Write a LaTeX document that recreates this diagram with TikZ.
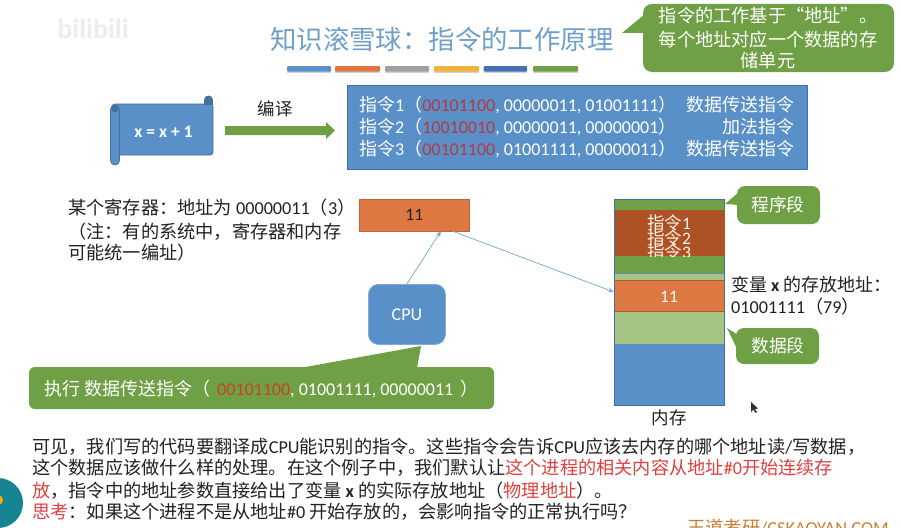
\documentclass[tikz,border=0pt]{standalone}
\usepackage{fontspec}
\usetikzlibrary{arrows.meta}
\setmainfont{Noto Sans CJK SC}
\newfontfamily\lat{Carlito}
\newcommand{\lt}[1]{{\lat #1}}
\definecolor{ttl}{HTML}{6F9FCB}
\definecolor{cblue}{HTML}{5A90C8}
\definecolor{eblue}{HTML}{41719C}
\definecolor{cgreen}{HTML}{70A045}
\definecolor{lgreen}{HTML}{A6C585}
\definecolor{corange}{HTML}{DD7842}
\definecolor{cbrown}{HTML}{AD5225}
\definecolor{cred}{HTML}{B23A44}
\definecolor{rred}{HTML}{C8431F}
\definecolor{tred}{HTML}{E0403F}
\definecolor{ink}{HTML}{222222}
\definecolor{linkc}{HTML}{7FABD6}
\definecolor{baryellow}{HTML}{F2B13C}
\definecolor{barblue}{HTML}{4670B6}
\definecolor{bargray}{HTML}{A0A0A0}
\tikzset{
  fs/.style={font=\fontsize{#1}{#1}\selectfont},
  txt/.style={inner sep=0pt,anchor=base west,text=ink,fs=18.2},
  wtxt/.style={inner sep=0pt,anchor=base,text=white,fs=18.2},
  seg/.style={fill=#1,draw=none},
  bar/.style={fill=#1,draw=none,rounded corners=1pt},
  link/.style={draw=linkc,line width=0.8pt,-{Stealth[length=6pt,width=5pt]}},
}
\begin{document}
\begin{tikzpicture}[x=1pt,y=-1pt]
\useasboundingbox (0,0) rectangle (901,527);
\clip (0,0) rectangle (901,527);
\fill[white] (0,0) rectangle (901,527);

% faint watermark
\node[inner sep=0pt,anchor=base,text=black!7,fs=28] (wm) at (93,39) {\lt{\bfseries bilibili}};

% title
\node[inner sep=0pt,anchor=base west,text=ttl,fs=26.4] (title) at (270,49) {知识滚雪球：指令的工作原理};
\foreach \a/\b/\c in {287/331/cblue,335/380/corange,385/429/bargray,434/479/baryellow,483.7/527/barblue,533/578/cgreen}{
  \fill[black!18] (\a,68) rectangle (\b,73);
  \fill[bar=\c] (\a,66) rectangle (\b,71.5);
}

% callout top right
\fill[cgreen] (645,14) -- (622,33) -- (645,33) -- cycle;
\fill[cgreen,rounded corners=9pt] (643,4) rectangle (894,72);
\node[wtxt] (c1) at (768,23) {指令的工作基于“地址”。};
\node[wtxt] (c2) at (768,46) {每个地址对应一个数据的存};
\node[wtxt] (c3) at (768,67) {储单元};

% scroll
\draw[fill=cblue,draw=eblue,line width=0.8pt,rounded corners=3pt] (112,104) rectangle (213,155);
\fill[eblue] (208.5,100) circle (4.5);
\fill[eblue] (204,100) rectangle (213,105);
\draw[fill=cblue,draw=eblue,line width=0.8pt,rounded corners=4.5pt] (110.5,105) rectangle (119.5,165);
\fill[eblue] (115,109) circle (3.5);
\node[inner sep=0pt,anchor=base,text=white,fs=17.5] (code) at (163.5,137) {\lt{\bfseries x = x + 1}};

% compile arrow
\fill[cgreen] (225,126) -- (326,126) -- (326,122) -- (335,130.5) -- (326,139) -- (326,135) -- (225,135) -- cycle;
\node[inner sep=0pt,anchor=base,text=ink,fs=17.5] (bianyi) at (275,115) {编译};

% instruction box
\draw[fill=cblue,draw=eblue,line width=0.8pt] (347,85) rectangle (807,169);
\tikzset{ins/.style={inner sep=0pt,anchor=base west,text=white,fs=18},insr/.style={inner sep=0pt,anchor=base east,text=white,fs=18}}
\node[ins] (i1) at (359,111) {指令\lt{1}（\lt{\textcolor{cred}{00101100}, 00000011, 01001111}）};
\node[ins] (i2) at (359,133) {指令\lt{2}（\lt{\textcolor{cred}{10010010}, 00000011, 00000001}）};
\node[ins] (i3) at (359,155) {指令\lt{3}（\lt{\textcolor{cred}{00101100}, 01001111, 00000011}）};
\node[insr] (t1) at (795,111) {数据传送指令};
\node[insr] (t2) at (795,133) {加法指令};
\node[insr] (t3) at (795,155) {数据传送指令};

% register
\node[txt] (r1) at (68,214) {某个寄存器：地址为 \lt{00000011}（\lt{3}）};
\node[txt] (r2) at (68,238) {（注：有的系统中，寄存器和内存};
\node[txt] (r3) at (68,259) {可能统一编址）};
\node[draw=corange!85!black,fill=corange,line width=0.5pt,minimum width=110pt,minimum height=32pt,inner sep=0pt,anchor=north west,text=ink,fs=17.5] (reg) at (359,199) {\lt{11}};

% cpu
\node[draw=linkc,fill=cblue,line width=0.8pt,rounded corners=10pt,minimum width=77pt,minimum height=60pt,inner sep=0pt,anchor=north west,text=white,fs=18] (cpu) at (368,284) {\lt{CPU}};

% memory
\fill[seg=cgreen] (614,199) rectangle (724,256);
\fill[seg=cgreen] (614,256) rectangle (724,273);
\fill[seg=lgreen] (614,273) rectangle (724,280);
\fill[seg=corange] (614,280) rectangle (724,311);
\fill[seg=lgreen] (614,311) rectangle (724,344);
\fill[seg=cblue] (614,344) rectangle (724,405);
\draw[corange!75!black,line width=0.4pt] (614,280) -- (724,280) (614,311) -- (724,311);
\draw[eblue!80,line width=0.6pt] (614,273) -- (724,273) (614,344) -- (724,344);
\draw[eblue,line width=0.8pt] (614,199) rectangle (724,405);
\coordinate (memin) at (614,292);
\fill[seg=cbrown] (615,210) rectangle (725,256);
\begin{scope}
\clip (615,210) rectangle (725,256);
\tikzset{mi/.style={inner sep=0pt,anchor=base,text=white!90!orange,fs=17.5}}
\node[mi] (m1) at (669,229) {指令\lt{1}};
\node[mi] (m2) at (669,244) {指令\lt{2}};
\node[mi] (m3) at (669,258) {指令\lt{3}};
\end{scope}
\node[inner sep=0pt,anchor=base,text=white,fs=17.5] (m11) at (669,302) {\lt{11}};
\node[inner sep=0pt,anchor=base,text=ink,fs=17.5] (nc) at (669,424) {内存};

% connectors
\coordinate (regin) at (441,231);
\coordinate (regout) at (452,231);
\draw[link] (cpu.north) -- (regin);
\draw[link] (regout) -- (memin);

% segment callouts
\fill[cgreen] (739,192) -- (725,204) -- (739,205) -- cycle;
\fill[cgreen,rounded corners=8pt] (737,186) rectangle (820,224);
\node[wtxt,fs=17.8] (s1) at (778,211) {程序段};
\fill[cgreen] (738,335) -- (727,328) -- (738,351) -- cycle;
\fill[cgreen,rounded corners=8pt] (736,328) rectangle (819,364);
\node[wtxt,fs=17.8] (s2) at (778,352) {数据段};
\node[txt,fs=18] (v1) at (731,291) {变量 \lt{\bfseries x} 的存放地址：};
\node[txt,fs=18.2] (v2) at (731,313) {\lt{01001111}（\lt{79}）};

% cursor
\fill[black!80] (751,402) -- (751,412) -- (753.5,409.5) -- (755.5,413) -- (757,412) -- (755,409) -- (758,408.5) -- cycle;

% execute callout
\fill[cgreen] (300,368) -- (421,346) -- (417,368) -- cycle;
\fill[cgreen,rounded corners=6pt] (29,367) rectangle (494,409);
\node[inner sep=0pt,anchor=base west,text=white,fs=18] (exec) at (44,395) {执行 数据传送指令（\hspace{7pt}\lt{\textcolor{rred}{00101100}, 01001111, 00000011}\hspace{7pt}）};

% paragraph
\node[txt] (p1) at (32,453) {可见，我们写的代码要翻译成\lt{CPU}能识别的指令。这些指令会告诉\lt{CPU}应该去内存的哪个地址读\lt{/}写数据，};
\node[txt] (p2) at (32,474.5) {这个数据应该做什么样的处理。在这个例子中，我们默认让\textcolor{tred}{这个进程的相关内容从地址\lt{\#0}开始连续存}};
\node[txt] (p3) at (32,497) {\textcolor{tred}{放}，指令中的地址参数直接给出了变量 \lt{\bfseries x} 的实际存放地址（\textcolor{tred}{物理地址}）。};
\node[txt] (p4) at (32,518) {\textcolor{tred}{思考}：如果这个进程不是从地址\lt{\#0} 开始存放的，会影响指令的正常执行吗？};

% lamp icon
\fill[teal!75!cblue] (-2,503) circle (25);
\fill[orange!70!yellow] (-2,500) circle (5);

% site mark
\node[inner sep=0pt,anchor=base west,text=brown!85!orange,fs=18.3] (site) at (687,534) {王道考研\lt{/CSKAOYAN.COM}};
\end{tikzpicture}
\end{document}
